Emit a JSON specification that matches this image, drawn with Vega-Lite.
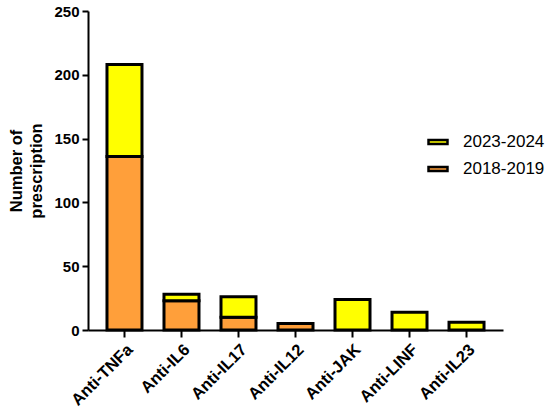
{
  "$schema": "https://vega.github.io/schema/vega-lite/v6.json",
  "width": 415,
  "height": 319,
  "autosize": "none",
  "padding": {"left": 88, "top": 11, "right": 47, "bottom": 84},
  "background": "white",
  "config": {
    "view": {"stroke": null},
    "font": "Liberation Sans"
  },
  "data": {
    "values": [
      {"drug": "Anti-TNFa", "period": "2018-2019", "n": 136},
      {"drug": "Anti-TNFa", "period": "2023-2024", "n": 72},
      {"drug": "Anti-IL6", "period": "2018-2019", "n": 23},
      {"drug": "Anti-IL6", "period": "2023-2024", "n": 5},
      {"drug": "Anti-IL17", "period": "2018-2019", "n": 10},
      {"drug": "Anti-IL17", "period": "2023-2024", "n": 16},
      {"drug": "Anti-IL12", "period": "2018-2019", "n": 5},
      {"drug": "Anti-JAK", "period": "2023-2024", "n": 24},
      {"drug": "Anti-LINF", "period": "2023-2024", "n": 14},
      {"drug": "Anti-IL23", "period": "2023-2024", "n": 6}
    ]
  },
  "mark": {"type": "bar", "stroke": "black", "strokeWidth": 3},
  "encoding": {
    "x": {
      "field": "drug",
      "type": "nominal",
      "sort": ["Anti-TNFa", "Anti-IL6", "Anti-IL17", "Anti-IL12", "Anti-JAK", "Anti-LINF", "Anti-IL23"],
      "scale": {"paddingInner": 0.386, "paddingOuter": 0.333},
      "title": null,
      "axis": {
        "labelAngle": -45,
        "labelAlign": "right",
        "labelBaseline": "top",
        "labelFontSize": 16.5,
        "labelFontWeight": "bold",
        "labelColor": "black",
        "labelPadding": 4,
        "domainColor": "black",
        "domainWidth": 2,
        "tickColor": "black",
        "tickWidth": 2,
        "tickSize": 7
      }
    },
    "y": {
      "field": "n",
      "type": "quantitative",
      "stack": "zero",
      "scale": {"domain": [0, 250], "nice": false},
      "title": ["Number of", "prescription"],
      "axis": {
        "values": [0, 50, 100, 150, 200, 250],
        "grid": false,
        "labelFontSize": 15,
        "labelFontWeight": "bold",
        "labelColor": "black",
        "labelPadding": 3,
        "titleFontSize": 16.5,
        "titleFontWeight": "bold",
        "titleColor": "black",
        "titleLineHeight": 20,
        "titlePadding": 9,
        "domainColor": "black",
        "domainWidth": 2,
        "tickColor": "black",
        "tickWidth": 2,
        "tickSize": 6
      }
    },
    "color": {
      "field": "period",
      "type": "nominal",
      "scale": {"domain": ["2023-2024", "2018-2019"], "range": ["#FFFF00", "#FF9F3A"]},
      "legend": {
        "title": null,
        "orient": "none",
        "legendX": 339,
        "legendY": 120,
        "symbolType": "M-1,-0.22H1V0.22H-1Z",
        "symbolSize": 360,
        "symbolStrokeColor": "black",
        "symbolStrokeWidth": 2.5,
        "symbolOpacity": 1,
        "labelFontSize": 17,
        "labelColor": "black",
        "labelOffset": 14,
        "rowPadding": 8
      }
    },
    "order": {"field": "period", "sort": "ascending"}
  }
}
